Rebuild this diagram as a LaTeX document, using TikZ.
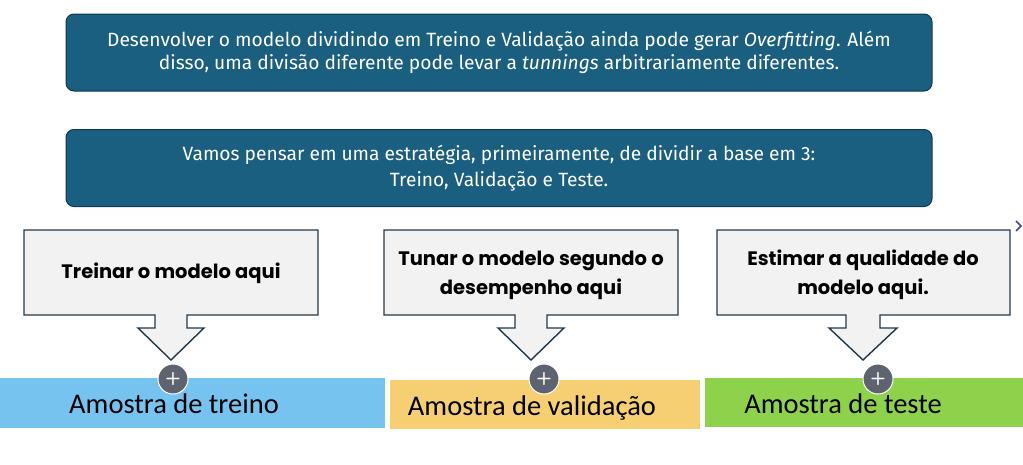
\documentclass[tikz,border=0pt]{standalone}
\usepackage{fontspec}
\setmainfont{Carlito}
\newfontfamily\topfont{Fira Sans}
\newfontfamily\boldfont{Poppins}
\definecolor{teal}{HTML}{1A5E80}
\definecolor{tealdark}{HTML}{0F3A50}
\definecolor{callfill}{HTML}{F2F2F2}
\definecolor{callline}{HTML}{22394A}
\definecolor{barblue}{HTML}{77C3F0}
\definecolor{baryellow}{HTML}{F5CF72}
\definecolor{bargreen}{HTML}{8DD24A}
\definecolor{plusgray}{HTML}{5E6370}
\begin{document}
\begin{tikzpicture}[x=1pt,y=-1pt,
  infobox/.style={draw=tealdark,line width=1pt,fill=teal,rounded corners=8pt,text=white,align=center,
    minimum width=866pt,minimum height=77pt,inner sep=0pt},
  callout/.style={draw=callline,line width=1.4pt,fill=callfill,line join=miter},
  calltext/.style={align=center,font=\boldfont\fontsize{19.5}{29}\selectfont\bfseries,text=black},
  bar/.style={inner sep=0pt,minimum height=50pt},
  barlabel/.style={font=\fontsize{28.5}{30}\selectfont,anchor=base,text=black},
  plus/.style={circle,fill=plusgray,draw=white,line width=1pt,minimum size=30pt,inner sep=0pt,
    text=white,font=\sffamily\fontsize{18}{18}\selectfont\bfseries}]
\useasboundingbox (0,0) rectangle (1023,464);
\fill[white] (0,0) rectangle (1023,464);

% top boxes
\node[infobox,font=\topfont\fontsize{19.2}{23}\selectfont] (t1) at (499,52.5) {Desenvolver o modelo dividindo em Treino e Validação ainda pode gerar \textit{Overfitting}. Além\\disso, uma divisão diferente pode levar a \textit{tunnings} arbitrariamente diferentes.};
\node[infobox,font=\topfont\fontsize{19.2}{26}\selectfont] (t2) at (499,168) {Vamos pensar em uma estratégia, primeiramente, de dividir a base em 3:\\Treino, Validação e Teste.};

% bars
\node[bar,fill=barblue,minimum width=385pt,anchor=north west] (b1) at (0,378) {};
\node[bar,fill=baryellow,minimum width=310pt,minimum height=49pt,anchor=north west] (b2) at (390,380) {};
\node[bar,fill=bargreen,minimum width=318pt,minimum height=49pt,anchor=north west] (b3) at (705,378) {};
\node[barlabel] (l1) at (174,413) {Amostra de treino};
\node[barlabel] (l2) at (532,415) {Amostra de validação};
\node[barlabel] (l3) at (843,413) {Amostra de teste};

% callouts
\draw[callout] (24,230) -- (318,230) -- (318,315) -- (187,315) -- (187,328) -- (204,328) -- (171,360)
  -- (138,328) -- (155,328) -- (155,315) -- (24,315) -- cycle;
\node[calltext] (c1) at (171,273) {Treinar o modelo aqui};
\draw[callout] (384,230) -- (678,230) -- (678,315) -- (547,315) -- (547,328) -- (564,328) -- (531,360)
  -- (498,328) -- (515,328) -- (515,315) -- (384,315) -- cycle;
\node[calltext] (c2) at (531,275) {Tunar o modelo segundo o\\desempenho aqui};
\draw[callout] (717,230) -- (1010,230) -- (1010,315) -- (880,315) -- (880,328) -- (897,328) -- (863,360)
  -- (829,328) -- (846,328) -- (846,315) -- (717,315) -- cycle;
\node[calltext] (c3) at (863,275) {Estimar a qualidade do\\modelo aqui.};

% plus markers
\node[plus] (p1) at (173,379) {+};
\node[plus] (p2) at (544,379) {+};
\node[plus] (p3) at (878,379) {+};

% chevron
\draw[color=plusgray!70!blue,line width=1.6pt] (1016,221) -- (1021,226) -- (1016,231);
\end{tikzpicture}
\end{document}
